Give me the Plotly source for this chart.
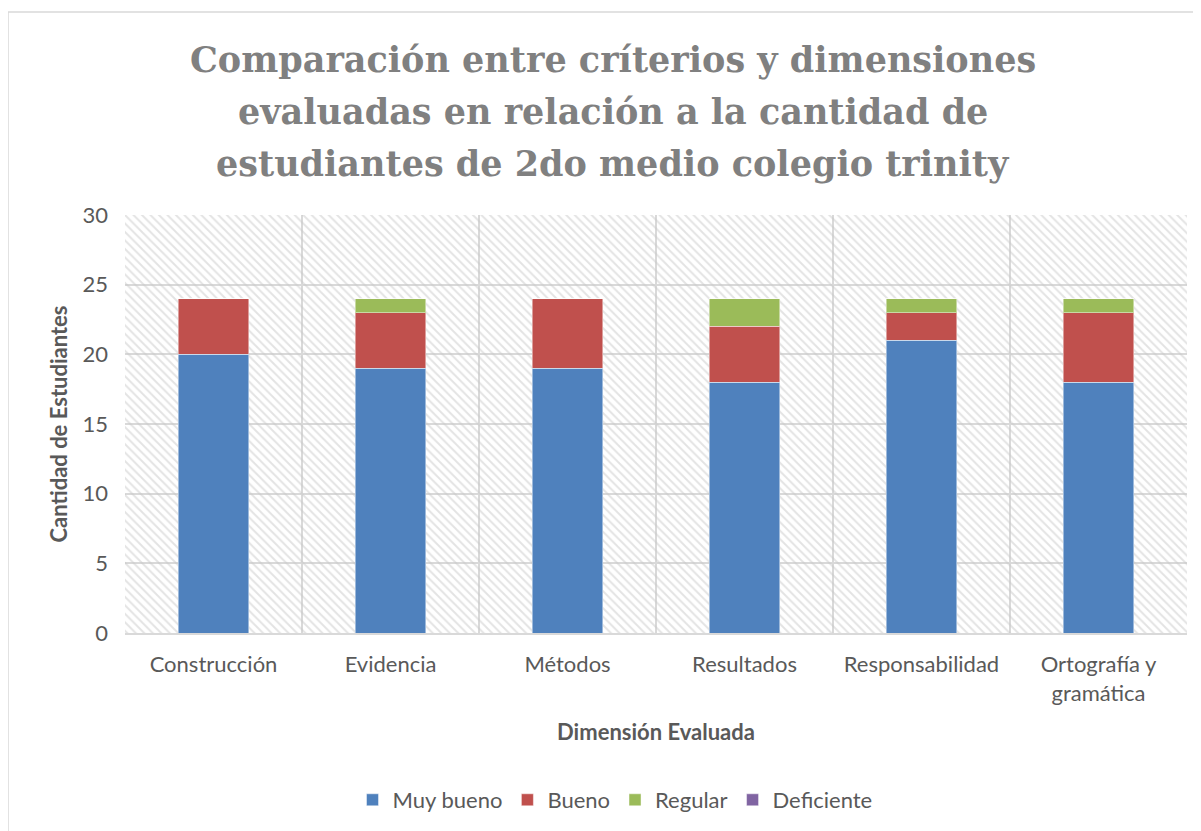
import plotly.graph_objects as go

# ── Data ──────────────────────────────────────────────────────────────────────
categories = ["Construcción", "Evidencia", "Métodos", "Resultados",
              "Responsabilidad", "Ortografía y<br>gramática"]
muy_bueno = [20, 19, 19, 18, 21, 18]
bueno = [4, 4, 5, 4, 2, 5]
regular = [0, 1, 0, 2, 1, 1]
deficiente = [0, 0, 0, 0, 0, 0]
y_ticks = [0, 5, 10, 15, 20, 25, 30]
title_lines = [
    "Comparación entre críterios y dimensiones",
    "evaluadas en relación a la cantidad de",
    "estudiantes de 2do medio colegio trinity",
]

series = [
    ("Muy bueno", muy_bueno, "#4F81BD"),
    ("Bueno", bueno, "#C0504D"),
    ("Regular", regular, "#9BBB59"),
    ("Deficiente", deficiente, "#8064A2"),
]

# page body has an 8px margin, so figure pixels = window pixels - 8
OFF = 8
W, H = 1201, 831
px_left, px_right, px_top, px_bot = 125 - OFF, 1187 - OFF, 215 - OFF, 633 - OFF
L, R, T, B = px_left, W - px_right, px_top, H - px_bot
pw, ph = px_right - px_left, px_bot - px_top

fig = go.Figure()

# ── Hatched plot background (light downward diagonal) ────────────────────────
fig.add_trace(go.Bar(
    x=categories, y=[max(y_ticks)] * len(categories), width=1,
    marker=dict(color="rgba(0,0,0,0)", line=dict(width=0),
                pattern=dict(shape="\\", fgcolor="#c8c8c8", bgcolor="rgba(0,0,0,0)",
                             size=6, solidity=0.32, fillmode="overlay")),
    showlegend=False, hoverinfo="skip",
))

# ── Stacked data bars on an overlay axis (drawn above the hatch) ─────────────
for name, vals, color in series:
    fig.add_trace(go.Bar(
        x=categories, y=vals, name=name, xaxis="x2",
        marker=dict(color=color, line=dict(color="rgba(255,255,255,0.45)", width=1)),
        width=0.4,
    ))

font_fam = "Lato, Open Sans, sans-serif"
txt = "#595959"
fs = 22

fig.update_layout(
    width=W, height=H,
    margin=dict(l=L, r=R, t=T, b=B),
    paper_bgcolor="white", plot_bgcolor="white",
    barmode="stack",
    font=dict(family=font_fam, size=fs, color=txt),
    xaxis=dict(
        type="category", range=[-0.5, len(categories) - 0.5],
        tickson="boundaries", showgrid=True, gridcolor="#d9d9d9", gridwidth=2,
        ticks="", showline=True, linecolor="#d9d9d9", linewidth=2,
        tickfont=dict(size=fs, color=txt), ticklabelstandoff=11,
        title=dict(text="<b>Dimensión Evaluada</b>", standoff=20,
                   font=dict(size=fs, color=txt)),
    ),
    xaxis2=dict(
        type="category", overlaying="x", range=[-0.5, len(categories) - 0.5],
        showticklabels=False, showgrid=False, ticks="", visible=False,
    ),
    yaxis=dict(
        range=[0, 30], tickvals=y_ticks, showgrid=True, gridcolor="#d9d9d9", gridwidth=2,
        zeroline=False, ticks="", tickfont=dict(size=fs, color=txt), ticklabelstandoff=16,
        title=dict(text="<b>Cantidad de Estudiantes</b>", standoff=8,
                   font=dict(size=fs, color=txt)),
    ),
    legend=dict(
        orientation="h", x=(615 - OFF - px_left) / pw, xanchor="center",
        y=(px_bot - (800 - OFF)) / ph, yanchor="middle",
        font=dict(size=fs, color=txt), traceorder="normal",
        itemwidth=30,
    ),
)

# ── Title: one annotation per line (Excel-like wide line spacing) ─────────────
for i, line in enumerate(title_lines):
    fig.add_annotation(
        text=f"<b>{line}</b>", showarrow=False,
        xref="paper", yref="paper",
        x=(612.5 - OFF - px_left) / pw, xanchor="center",
        y=(px_bot - (60 + 51.5 * i - OFF)) / ph, yanchor="middle",
        font=dict(family="DejaVu Serif, serif", size=35, color="#808080"),
    )

# Outer chart border (extends past the right and bottom edges of the image)
fig.add_shape(
    type="rect", xref="paper", yref="paper",
    x0=(8 - OFF - px_left) / pw, x1=1.2, y0=-1, y1=(px_bot - (12 - OFF)) / ph,
    line=dict(color="#d9d9d9", width=1.5), fillcolor="rgba(0,0,0,0)", layer="below",
)

fig.write_html("out.html")
